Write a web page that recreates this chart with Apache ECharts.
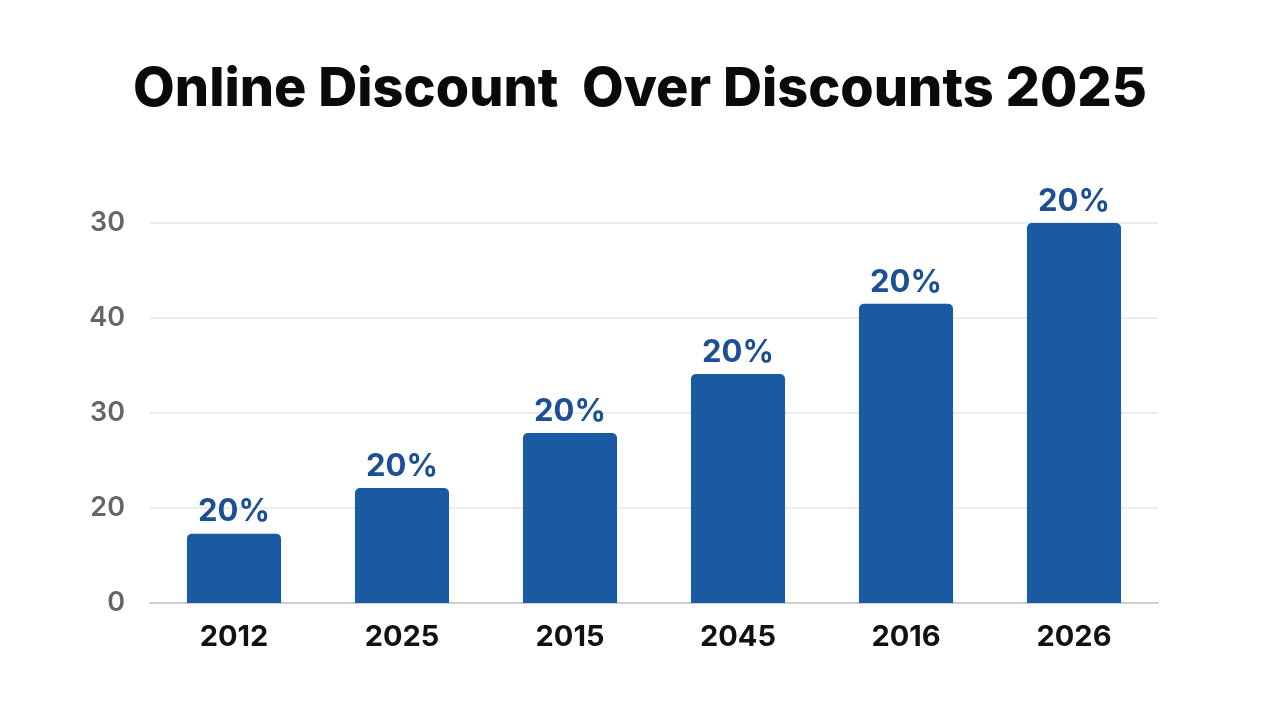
<!DOCTYPE html>
<html>
<head>
<meta charset="utf-8">
<script src="https://cdn.jsdelivr.net/npm/echarts@6/dist/echarts.min.js"></script>
<style>
  html, body { margin: 0; padding: 0; background: #fff; }
  #chart { width: 1280px; height: 720px; }
</style>
</head>
<body>
<div id="chart"></div>
<script>
// categorias e valores (em unidades da escala 0-40)
const categories = ['2012', '2025', '2015', '2045', '2016', '2026'];
const values = [7.3, 12.1, 17.9, 24.1, 31.5, 40];
const barLabels = ['20%', '20%', '20%', '20%', '20%', '20%'];
// rótulos do eixo Y como aparecem no original (um por linha de grade)
const yTickLabels = ['0', '20', '30', '40', '30'];

const chart = echarts.init(document.getElementById('chart'));

const option = {
    backgroundColor: '#ffffff',
    title: {
        text: 'Online Discount  Over Discounts 2025',
        left: 'center',
        top: 58,
        textStyle: {
            fontFamily: 'Inter',
            fontWeight: 800,
            fontSize: 54,
            color: '#0a0a0a'
        }
    },
    grid: { left: 150, right: 122, top: 223, bottom: 117 },
    xAxis: {
        type: 'category',
        data: categories,
        axisTick: { show: false },
        axisLine: { lineStyle: { color: '#cfcfcf', width: 2 } },
        axisLabel: {
            margin: 20,
            fontFamily: 'Inter',
            fontWeight: 700,
            fontSize: 29,
            color: '#111'
        }
    },
    yAxis: {
        type: 'value',
        min: 0,
        max: 40,
        interval: 10,
        axisLine: { show: false },
        axisTick: { show: false },
        splitLine: { lineStyle: { color: '#e6e6e6', width: 1.5 } },
        axisLabel: {
            margin: 25,
            fontFamily: 'Inter',
            fontWeight: 600,
            fontSize: 27,
            color: '#666666',
            formatter: v => yTickLabels[Math.round(v / 10)]
        }
    },
    series: [{
        type: 'bar',
        data: values,
        barWidth: '56%',
        itemStyle: { color: '#1a5aa2', borderRadius: [5, 5, 0, 0] },
        label: {
            show: true,
            position: 'top',
            distance: 6,
            fontFamily: 'Inter',
            fontWeight: 700,
            fontSize: 31,
            color: '#1c4f94',
            formatter: p => barLabels[p.dataIndex]
        }
    }]
};

chart.setOption(option);
</script>
</body>
</html>
